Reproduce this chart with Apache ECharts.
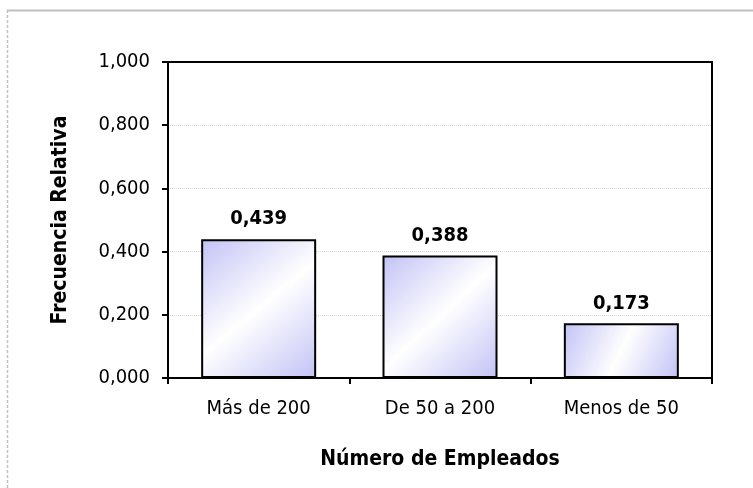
<!DOCTYPE html>
<html>
<head>
<meta charset="utf-8">
<script src="https://cdn.jsdelivr.net/npm/echarts@6/dist/echarts.min.js"></script>
<style>
  html, body { margin: 0; padding: 0; background: #fff; }
  #chart { width: 753px; height: 488px; }
</style>
</head>
<body>
<div id="chart"></div>
<script>
var categories = ['Más de 200', 'De 50 a 200', 'Menos de 50'];
var frecuencia = [0.439, 0.388, 0.173];
var yTicks = { min: 0, max: 1, step: 0.2 };

function fmt(v) { return v.toFixed(3).replace('.', ','); }

var myChart = echarts.init(document.getElementById('chart'));
var font = 'DejaVu Sans Condensed';

var option = {
    animation: false,
    textStyle: { fontFamily: font },
    graphic: [
        { type: 'line', shape: { x1: 7, y1: 10.5, x2: 753, y2: 10.5 },
          style: { stroke: '#c0c0c0', lineWidth: 2 } },
        { type: 'line', shape: { x1: 7.5, y1: 10, x2: 7.5, y2: 488 },
          style: { stroke: '#c0c0c0', lineWidth: 1.5, lineDash: [3, 2] } }
    ],
    grid: {
        left: 168, right: 41, top: 62, bottom: 110,
        show: true, borderColor: '#000', borderWidth: 2
    },
    xAxis: {
        type: 'category',
        data: categories,
        name: 'Número de Empleados',
        nameLocation: 'middle',
        nameGap: 71,
        nameTextStyle: { color: '#000', fontWeight: 'bold', fontSize: 21, fontFamily: font },
        axisLine: { lineStyle: { color: '#000', width: 2 } },
        axisTick: { show: true, length: 6, lineStyle: { color: '#000', width: 2 } },
        axisLabel: { color: '#000', fontSize: 20, margin: 21, fontFamily: font }
    },
    yAxis: {
        type: 'value',
        min: yTicks.min, max: yTicks.max, interval: yTicks.step,
        name: 'Frecuencia Relativa',
        nameLocation: 'middle',
        nameGap: 97,
        nameTextStyle: { color: '#000', fontWeight: 'bold', fontSize: 21, fontFamily: font },
        axisLine: { show: true, lineStyle: { color: '#000', width: 2 } },
        axisTick: { show: true, length: 6, lineStyle: { color: '#000', width: 2 } },
        axisLabel: { color: '#000', fontSize: 20, margin: 18, fontFamily: font, formatter: fmt },
        splitLine: {
            show: true, showMinLine: false, showMaxLine: false,
            lineStyle: { color: '#d4d4d4', type: 'dotted', width: 1 }
        }
    },
    series: [{
        type: 'bar',
        data: frecuencia,
        barWidth: 115,
        itemStyle: {
            borderColor: '#000',
            borderWidth: 2,
            color: new echarts.graphic.LinearGradient(0, 0, 1, 1, [
                { offset: 0, color: '#c2c2f6' },
                { offset: 0.5, color: '#ffffff' },
                { offset: 1, color: '#c2c2f6' }
            ])
        },
        label: {
            show: true,
            position: 'top',
            distance: 10,
            color: '#000',
            fontWeight: 'bold',
            fontSize: 20,
            fontFamily: font,
            formatter: function (p) { return fmt(p.value); }
        }
    }]
};

myChart.setOption(option);
</script>
</body>
</html>
